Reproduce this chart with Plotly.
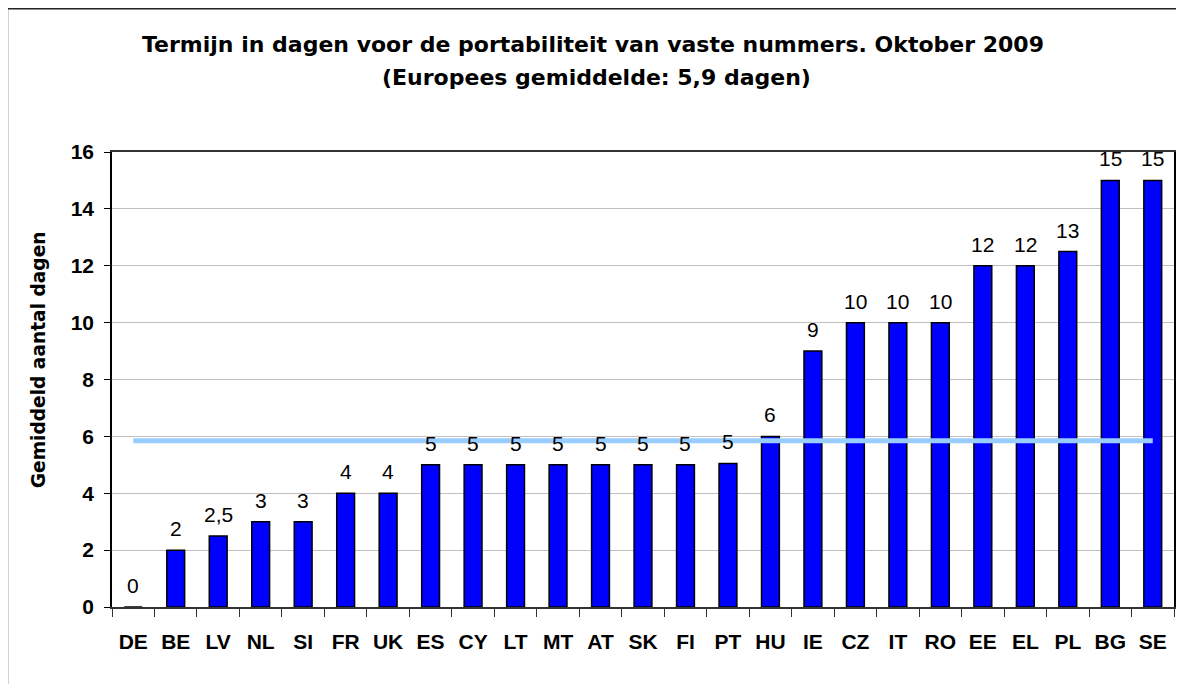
import plotly.graph_objects as go

countries = ["DE", "BE", "LV", "NL", "SI", "FR", "UK", "ES", "CY", "LT", "MT", "AT", "SK",
             "FI", "PT", "HU", "IE", "CZ", "IT", "RO", "EE", "EL", "PL", "BG", "SE"]
days = [0, 2, 2.5, 3, 3, 4, 4, 5, 5, 5, 5, 5, 5, 5, 5.05, 6, 9, 10, 10, 10, 12, 12, 12.5, 15, 15]
labels = ["0", "2", "2,5", "3", "3", "4", "4", "5", "5", "5", "5", "5", "5", "5", "5", "6",
          "9", "10", "10", "10", "12", "12", "13", "15", "15"]
eu_average = 5.85
y_ticks = [0, 2, 4, 6, 8, 10, 12, 14, 16]

title_line1 = "Termijn in dagen voor de portabiliteit van vaste nummers. Oktober 2009"
title_line2 = "(Europees gemiddelde: 5,9 dagen)"
y_title = "Gemiddeld aantal dagen"

FONT = "Arial, Liberation Sans, sans-serif"
WIDE = "DejaVu Sans, Arial, sans-serif"

# page body adds an 8px offset; figure sized so the screen layout matches
W, H = 1168, 676
L, R, T, B = 104, 0, 144, 77
PW = W - L - R
PH = H - T - B


def px(x):  # screen x -> paper x
    return (x - 8 - L) / PW


def py(y):  # screen y -> paper y
    return (T + PH - (y - 8)) / PH


fig = go.Figure()
fig.add_trace(go.Bar(
    x=countries, y=days, width=0.42,
    marker=dict(color="#0000FF", line=dict(color="#000000", width=1.5)),
    hoverinfo="x+y",
))
fig.add_trace(go.Scatter(
    x=[countries[0], countries[-1]], y=[eu_average, eu_average],
    mode="lines", line=dict(color="#99CCFF", width=5),
    hoverinfo="skip",
))

for c, v, t in zip(countries, days, labels):
    fig.add_annotation(x=c, y=v, text=t, showarrow=False, yanchor="bottom",
                       xanchor="center", yshift=8,
                       font=dict(family=FONT, size=21, color="#000000"))

fig.add_annotation(xref="paper", yref="paper", x=px(594), y=py(45),
                   xanchor="center", yanchor="middle",
                   text="<b>" + title_line1 + "</b>", showarrow=False,
                   font=dict(family=WIDE, size=22, color="#000000"))
fig.add_annotation(xref="paper", yref="paper", x=px(597), y=py(78),
                   xanchor="center", yanchor="middle",
                   text="<b>" + title_line2 + "</b>", showarrow=False,
                   font=dict(family=WIDE, size=22, color="#000000"))
fig.add_annotation(xref="paper", yref="paper", x=px(38), y=py(360),
                   xanchor="center", yanchor="middle",
                   text="<b>" + y_title + "</b>", showarrow=False, textangle=-90,
                   font=dict(family=WIDE, size=18.6, color="#000000"))

# outer chart border (top and left edges visible in the window)
fig.add_shape(type="line", xref="paper", yref="paper",
              x0=px(7), x1=1.06, y0=py(8.5), y1=py(8.5),
              line=dict(color="#222222", width=2), layer="below")
fig.add_shape(type="line", xref="paper", yref="paper",
              x0=px(7), x1=px(7), y0=-0.3, y1=py(8.5),
              line=dict(color="#222222", width=2), layer="below")

fig.update_layout(
    width=W, height=H,
    margin=dict(l=L, r=R, t=T, b=B),
    paper_bgcolor="white", plot_bgcolor="white",
    showlegend=False,
    font=dict(family=FONT, color="#000000"),
)
fig.update_xaxes(
    type="category", categoryorder="array", categoryarray=countries,
    showline=True, linecolor="#333333", linewidth=2, mirror=True,
    ticks="outside", tickson="boundaries", ticklen=8, tickcolor="#333333", tickwidth=1,
    tickfont=dict(family=FONT, size=21, color="#000000", weight="bold"),
    ticklabelstandoff=15,
    showgrid=False, range=[-0.5, len(countries) - 0.5],
)
fig.update_yaxes(
    range=[0, 16], tickvals=y_ticks, ticktext=[str(v) for v in y_ticks],
    showline=True, linecolor="#000000", linewidth=1.5, mirror=True,
    ticks="outside", ticklen=6, tickcolor="#000000",
    tickfont=dict(family=FONT, size=21, color="#000000", weight="bold"),
    ticklabelstandoff=6,
    showgrid=True, gridcolor="#C0C0C0", gridwidth=1, zeroline=False,
)

fig.write_html("out.html")
